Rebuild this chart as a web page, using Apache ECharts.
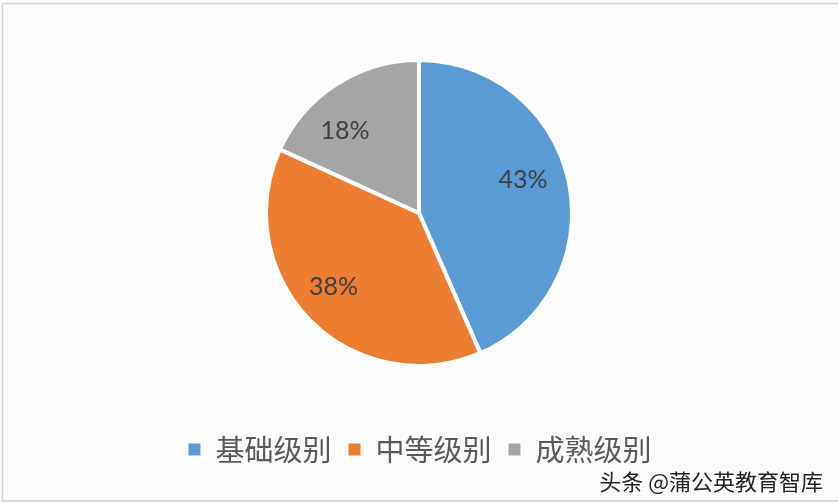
<!DOCTYPE html>
<html>
<head>
<meta charset="utf-8">
<script src="https://cdn.jsdelivr.net/npm/echarts@6/dist/echarts.min.js"></script>
<style>
  html, body { margin: 0; padding: 0; background: #fdfdfe; }
  #main { width: 838px; height: 504px; }
</style>
</head>
<body>
<div id="main"></div>
<script>
var levels = ['基础级别', '中等级别', '成熟级别'];   // 类别
var percents = [43, 38, 18];                          // 占比(%)
var colors = ['#5b9bd5', '#ed7d31', '#a5a5a5'];
var labelOffsets = [[-8, -10], [-4, -6], [-12, 14]]; // 标签微调

var pieData = [];
var labelData = [];
for (var i = 0; i < levels.length; i++) {
    pieData.push({name: levels[i], value: percents[i], itemStyle: {color: colors[i]}});
    labelData.push({name: levels[i], value: percents[i], label: {offset: labelOffsets[i]}});
}

var myChart = echarts.init(document.getElementById('main'));
myChart.setOption({
    backgroundColor: '#fdfdfe',
    animation: false,
    legend: {
        data: levels,
        bottom: 35,
        left: 'center',
        itemWidth: 14,
        itemHeight: 14,
        itemGap: 15,
        icon: 'rect',
        textStyle: {
            fontFamily: 'Noto Sans CJK SC',
            fontSize: 29,
            color: '#595959',
            padding: [0, 0, 0, 9]
        }
    },
    graphic: [
        {
            type: 'rect',
            shape: {x: 2.5, y: 3.5, width: 840, height: 497.5},
            style: {fill: 'none', stroke: '#d4d4d4', lineWidth: 1.5},
            silent: true
        },
        {
            type: 'text',
            right: 15,
            bottom: 11,
            style: {
                text: '头条 @蒲公英教育智库',
                fontFamily: 'Noto Sans CJK SC',
                fontSize: 22,
                fill: '#222',
                textShadowColor: 'rgba(255,255,255,0.9)',
                textShadowBlur: 2,
                textShadowOffsetX: 1,
                textShadowOffsetY: 1
            },
            silent: true
        }
    ],
    series: [
        {
            type: 'pie',
            center: [419, 213],
            radius: [0, 153],
            startAngle: 90,
            clockwise: true,
            silent: true,
            itemStyle: {borderColor: '#ffffff', borderWidth: 4},
            label: {show: false},
            labelLine: {show: false},
            data: pieData
        },
        {
            // 标签层
            type: 'pie',
            center: [419, 213],
            radius: [70, 153],
            startAngle: 90,
            clockwise: true,
            silent: true,
            itemStyle: {color: 'transparent', borderWidth: 0},
            label: {
                show: true,
                position: 'inside',
                formatter: '{c}%',
                fontFamily: 'Lato',
                fontSize: 25,
                color: '#404040'
            },
            labelLine: {show: false},
            emphasis: {disabled: true},
            data: labelData
        }
    ]
});
</script>
</body>
</html>
